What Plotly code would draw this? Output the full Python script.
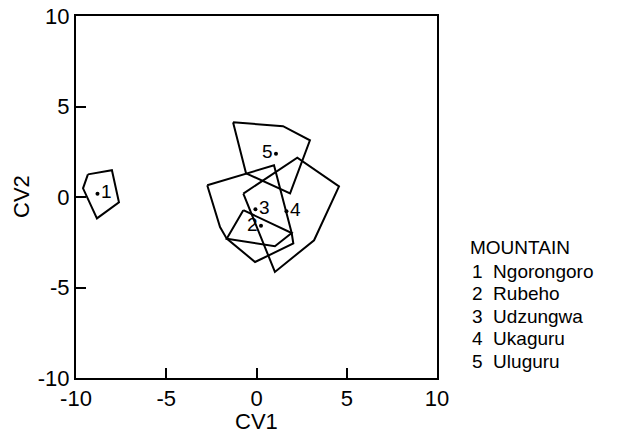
import plotly.graph_objects as go

# ---- data ----
mountain_ids = ["1", "2", "3", "4", "5"]
mountain_names = ["Ngorongoro", "Rubeho", "Udzungwa", "Ukaguru", "Uluguru"]

hull1_cv1 = [-9.34, -8.01, -7.62, -8.84, -9.61]
hull1_cv2 = [1.25, 1.48, -0.29, -1.18, 0.48]

hull2_cv1 = [-0.73, 1.95, 1.02, -1.65]
hull2_cv2 = [-0.73, -1.99, -2.72, -2.30]

hull3_cv1 = [-2.73, 0.97, 1.95, 2.04, -0.08, -1.65, -2.02]
hull3_cv2 = [0.65, 1.75, -1.99, -2.57, -3.59, -2.30, -1.66]

hull4_cv1 = [-0.73, 2.26, 4.57, 3.19, 1.02]
hull4_cv2 = [0.19, 2.17, 0.59, -2.39, -4.14]

hull5_cv1 = [-1.30, 1.47, 2.96, 1.86, -0.58]
hull5_cv2 = [4.13, 3.91, 3.13, 0.20, 1.31]

centroid_cv1 = [-8.81, 0.25, -0.06, 1.66, 1.08]
centroid_cv2 = [0.18, -1.59, -0.68, -0.79, 2.39]
label_side = ["middle right", "middle left", "middle right", "middle right", "middle left"]

tick_vals = [-10, -5, 0, 5, 10]

hulls = [(hull1_cv1, hull1_cv2), (hull2_cv1, hull2_cv2), (hull3_cv1, hull3_cv2),
         (hull4_cv1, hull4_cv2), (hull5_cv1, hull5_cv2)]

FONT = "Liberation Sans, Arial, sans-serif"
W, H = 630, 436
# page-pixel positions of the plot frame
L, R, T, B = 76, 437, 16, 378

fig = go.Figure()
for (hx, hy) in hulls:
    fig.add_trace(go.Scatter(
        x=list(hx) + [hx[0]], y=list(hy) + [hy[0]],
        mode="lines", line=dict(color="black", width=2),
        hoverinfo="skip", showlegend=False))

fig.add_trace(go.Scatter(
    x=centroid_cv1, y=centroid_cv2, mode="markers+text",
    marker=dict(color="black", size=4),
    text=mountain_ids, textposition=label_side,
    textfont=dict(family=FONT, size=19, color="black"),
    hoverinfo="skip", showlegend=False))

axis_common = dict(
    range=[-10, 10], tickvals=tick_vals, ticktext=[str(v) for v in tick_vals],
    ticks="inside", ticklen=10, tickwidth=2, tickcolor="black",
    showline=True, linecolor="black", linewidth=2, mirror=True,
    showgrid=False, zeroline=False, automargin=False,
    tickfont=dict(family=FONT, size=22, color="black"),
)

fig.update_xaxes(**axis_common)
fig.update_yaxes(**axis_common)


def px_to_paper(px, py):
    return (px - L) / (R - L), (B - py) / (B - T)


# axis titles
tx, ty = px_to_paper(256.5, 422)
fig.add_annotation(xref="paper", yref="paper", x=tx, y=ty, text="CV1", showarrow=False,
                   xanchor="center", yanchor="middle",
                   font=dict(family=FONT, size=22, color="black"))
tx, ty = px_to_paper(21, 197)
fig.add_annotation(xref="paper", yref="paper", x=tx, y=ty, text="CV2", showarrow=False,
                   xanchor="center", yanchor="middle", textangle=-90,
                   font=dict(family=FONT, size=22, color="black"))

# legend block as text
lx, ly = px_to_paper(468, 248)
fig.add_annotation(xref="paper", yref="paper", x=lx, y=ly,
                   text="MOUNTAIN", showarrow=False, xanchor="left", yanchor="middle",
                   font=dict(family=FONT, size=19, color="black"))
for i, (mid, name) in enumerate(zip(mountain_ids, mountain_names)):
    ex, ey = px_to_paper(470, 271 + i * 22.6)
    fig.add_annotation(xref="paper", yref="paper", x=ex, y=ey,
                       text=f"{mid}  {name}", showarrow=False, xanchor="left", yanchor="middle",
                       font=dict(family=FONT, size=19, color="black"))

fig.update_layout(
    width=W, height=H,
    margin=dict(l=L, r=W - R, t=T, b=H - B, pad=0),
    plot_bgcolor="white", paper_bgcolor="white",
    font=dict(family=FONT, color="black"),
)

fig.write_html("out.html", config={"displayModeBar": False},
               post_script="document.body.style.margin='0px';")
